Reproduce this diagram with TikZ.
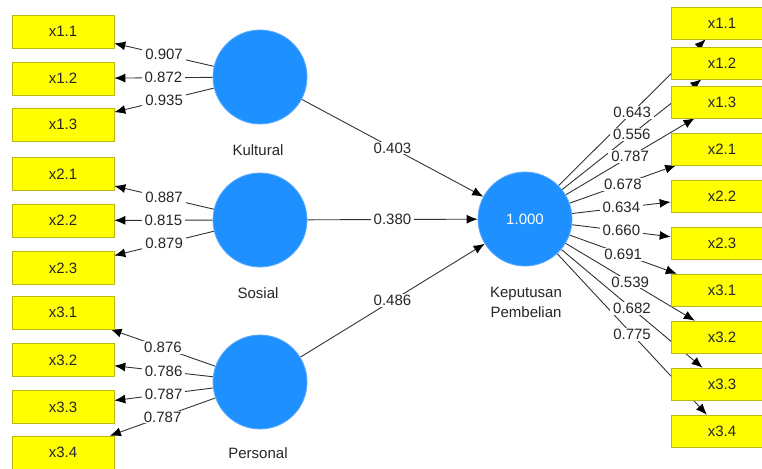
\documentclass[tikz,border=0pt]{standalone}
\usepackage{fontspec}
\setmainfont{Liberation Sans}
\usetikzlibrary{arrows.meta,calc}
\pgfdeclarelayer{bg}
\pgfsetlayers{bg,main}
\definecolor{lvblue}{RGB}{30,144,255}
\definecolor{lvedge}{RGB}{90,170,255}
\definecolor{boxyel}{RGB}{255,255,0}
\definecolor{boxedge}{RGB}{185,185,20}
\begin{document}
\begin{tikzpicture}[x=1pt,y=-1pt,
  ind/.style={rectangle, fill=boxyel, draw=boxedge, line width=0.6pt,
    minimum width=102pt, minimum height=33pt, inner sep=0pt,
    font=\fontsize{15}{16}\selectfont, text=black!85},
  lv/.style={circle, fill=lvblue, draw=lvedge, line width=0.8pt,
    minimum size=94pt, inner sep=0pt},
  lvname/.style={font=\fontsize{15}{20}\selectfont, text=black!85, align=center},
  pth/.style={draw=black!80, line width=0.9pt, -{Latex[length=11pt,width=9pt,fill=black,color=black]}},
  lbl/.style={fill=white, inner xsep=3pt, inner ysep=1pt, font=\fontsize{15}{16}\selectfont, text=black!85}]
\useasboundingbox (0,0) rectangle (762,468);

% latent variables
\node[lv] (K) at (260,77) {};
\node[lv] (S) at (260,220) {};
\node[lv] (P) at (260,382) {};
\node[lv, text=white, font=\fontsize{15}{16}\selectfont] (KP) at (525,219) {1.000};
\node[lvname] (tK) at (258,150) {Kultural};
\node[lvname] (tS) at (258,293) {Sosial};
\node[lvname] (tP) at (258,453) {Personal};
\node[lvname] (tKP) at (526,302) {Keputusan\\Pembelian};

% left indicators
\node[ind] (l11) at (63,31.5) {x1.1};
\node[ind] (l12) at (63,78.5) {x1.2};
\node[ind] (l13) at (63,124.5) {x1.3};
\node[ind] (l21) at (63,174) {x2.1};
\node[ind] (l22) at (63,220.5) {x2.2};
\node[ind] (l23) at (63,268) {x2.3};
\node[ind] (l31) at (63,312.5) {x3.1};
\node[ind] (l32) at (63,360) {x3.2};
\node[ind] (l33) at (63,407) {x3.3};
\node[ind] (l34) at (63,452.5) {x3.4};

% right indicators
\node[ind, minimum height=32pt] (r11) at (722,23) {x1.1};
\node[ind, minimum height=32pt] (r12) at (722,63) {x1.2};
\node[ind, minimum height=32pt] (r13) at (722,102) {x1.3};
\node[ind, minimum height=32pt] (r21) at (722,149) {x2.1};
\node[ind, minimum height=32pt] (r22) at (722,196) {x2.2};
\node[ind, minimum height=32pt] (r23) at (722,243) {x2.3};
\node[ind, minimum height=32pt] (r31) at (722,290) {x3.1};
\node[ind, minimum height=32pt] (r32) at (722,337) {x3.2};
\node[ind, minimum height=32pt] (r33) at (722,384) {x3.3};
\node[ind, minimum height=32pt] (r34) at (722,431) {x3.4};

% background and connectors (behind boxes)
\begin{pgfonlayer}{bg}
\fill[white] (0,0) rectangle (762,468);
\foreach \a/\b in {K/l11,K/l12,K/l13,S/l21,S/l22,S/l23,P/l31,P/l32,P/l33,P/l34,
  K/KP,S/KP,P/KP,
  KP/r11,KP/r12,KP/r13,KP/r21,KP/r22,KP/r23,KP/r31,KP/r32,KP/r33,KP/r34}
  \draw[pth] (\a) -- (\b);
\end{pgfonlayer}

% labels on top
\foreach \a/\b/\v in {K/l11/0.907,K/l12/0.872,K/l13/0.935,
  S/l21/0.887,S/l22/0.815,S/l23/0.879,
  P/l31/0.876,P/l32/0.786,P/l33/0.787,P/l34/0.787,
  K/KP/0.403,S/KP/0.380,P/KP/0.486,
  KP/r11/0.643,KP/r12/0.556,KP/r13/0.787,KP/r21/0.678,KP/r22/0.634,
  KP/r23/0.660,KP/r31/0.691,KP/r32/0.539,KP/r33/0.682,KP/r34/0.775}
  \path (\a) -- (\b) node[lbl, midway] {\v};
\end{tikzpicture}
\end{document}
